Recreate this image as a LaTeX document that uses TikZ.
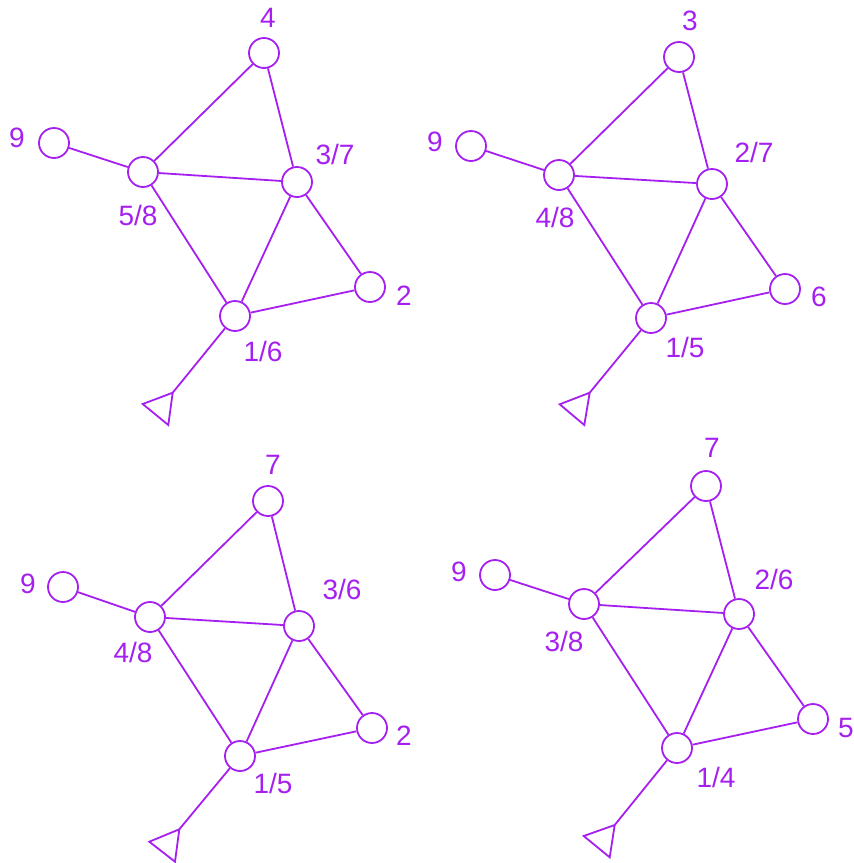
\documentclass[tikz,border=0pt]{standalone}
\usepackage{fontspec}
\setmainfont{Liberation Sans}
\usepackage{tikz}
\usetikzlibrary{positioning}
\definecolor{vpurple}{RGB}{165,32,240}
\begin{document}
\begin{tikzpicture}[x=1pt,y=-1pt,font=\fontsize{28}{33}\selectfont,
 vert/.style={circle,draw=vpurple,fill=white,line width=1.8pt,
   minimum size=30pt,inner sep=0pt},
 edge/.style={draw=vpurple,line width=1.8pt},
 tag/.style={text=vpurple,inner sep=0pt},
 ground/.style={draw=vpurple,line width=1.8pt,line join=miter}]
\useasboundingbox (0,0) rectangle (854,863);
% Top-left graph.
\node[vert] (a4) at (264,53) {};
\node[vert] (a9) at (54,143) {};
\node[vert] (a58) at (143,172) {};
\node[vert] (a37) at (297,182) {};
\node[vert] (a2) at (370,287) {};
\node[vert] (a16) at (235,316) {};
\coordinate (ag) at (172.7,392.7);
\draw[ground] (ag)--(142.7,404)--(168.3,425)--cycle;
\draw[edge] (a9)--(a58) (a58)--(a4) (a4)--(a37) (a58)--(a37)
  (a58)--(a16) (a37)--(a16) (a37)--(a2) (a2)--(a16) (a16)--(ag);
\node[tag] (a4l) at (268,18) {4};
\node[tag] (a9l) at (17,138) {9};
\node[tag] (a58l) at (138,215) {5/8};
\node[tag] (a37l) at (335,154) {3/7};
\node[tag] (a2l) at (404,296) {2};
\node[tag] (a16l) at (263,351) {1/6};
% Top-right graph.
\node[vert] (b3) at (679,57) {};
\node[vert] (b9) at (471,146) {};
\node[vert] (b48) at (559,175) {};
\node[vert] (b27) at (712,184) {};
\node[vert] (b6) at (785,289) {};
\node[vert] (b15) at (651,318) {};
\coordinate (bg) at (589.7,392.7);
\draw[ground] (bg)--(559.7,404.3)--(584.3,425)--cycle;
\draw[edge] (b9)--(b48) (b48)--(b3) (b3)--(b27) (b48)--(b27)
  (b48)--(b15) (b27)--(b15) (b27)--(b6) (b6)--(b15) (b15)--(bg);
\node[tag] (b3l) at (690,21) {3};
\node[tag] (b9l) at (435,142) {9};
\node[tag] (b48l) at (555,217) {4/8};
\node[tag] (b27l) at (754,152) {2/7};
\node[tag] (b6l) at (819,297) {6};
\node[tag] (b15l) at (685,347) {1/5};
% Bottom-left graph.
\node[vert] (c7) at (268,501) {};
\node[vert] (c9) at (63,587) {};
\node[vert] (c48) at (150,617) {};
\node[vert] (c36) at (299,626) {};
\node[vert] (c2) at (372,728) {};
\node[vert] (c15) at (240,756) {};
\coordinate (cg) at (179.3,829.3);
\draw[ground] (cg)--(149.3,841.7)--(175,861.7)--cycle;
\draw[edge] (c9)--(c48) (c48)--(c7) (c7)--(c36) (c48)--(c36)
  (c48)--(c15) (c36)--(c15) (c36)--(c2) (c2)--(c15) (c15)--(cg);
\node[tag] (c7l) at (273,465) {7};
\node[tag] (c9l) at (28,584) {9};
\node[tag] (c48l) at (133,652) {4/8};
\node[tag] (c36l) at (342,589) {3/6};
\node[tag] (c2l) at (404,736) {2};
\node[tag] (c15l) at (273,783) {1/5};
% Bottom-right graph.
\node[vert] (d7) at (706,486) {};
\node[vert] (d9) at (495,575) {};
\node[vert] (d38) at (584,604) {};
\node[vert] (d26) at (739,614) {};
\node[vert] (d5) at (813,719) {};
\node[vert] (d14) at (677,748) {};
\coordinate (dg) at (614.7,825);
\draw[ground] (dg)--(583.7,836)--(609.7,857.3)--cycle;
\draw[edge] (d9)--(d38) (d38)--(d7) (d7)--(d26) (d38)--(d26)
  (d38)--(d14) (d26)--(d14) (d26)--(d5) (d5)--(d14) (d14)--(dg);
\node[tag] (d7l) at (712,448) {7};
\node[tag] (d9l) at (459,572) {9};
\node[tag] (d38l) at (564,641) {3/8};
\node[tag] (d26l) at (774,579) {2/6};
\node[tag] (d5l) at (846,728) {5};
\node[tag] (d14l) at (716,777) {1/4};
\end{tikzpicture}
\end{document}
